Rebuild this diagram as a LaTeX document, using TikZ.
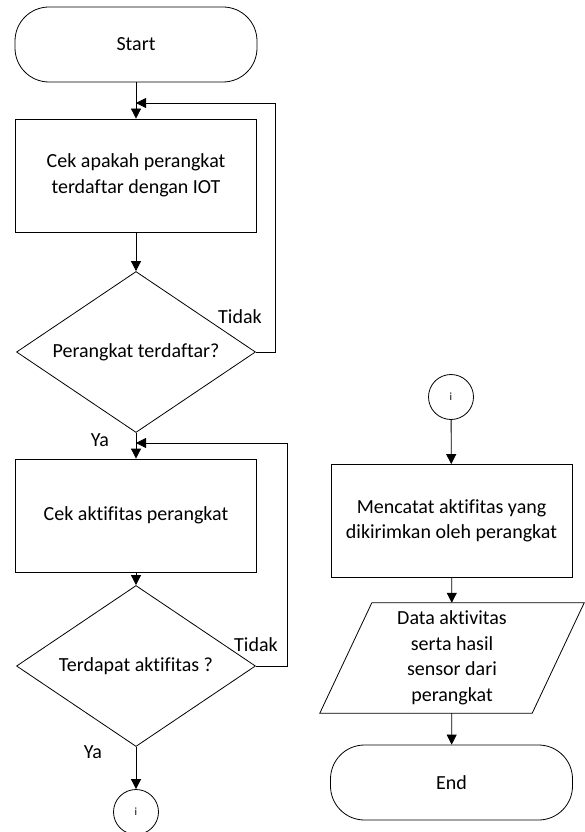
\documentclass[tikz,border=0pt]{standalone}
\usepackage{fontspec}
\setmainfont{Carlito}[Ligatures=NoCommon]
\usetikzlibrary{shapes.geometric,arrows.meta}
\begin{document}
\begin{tikzpicture}[x=1pt,y=-1pt,
  every node/.style={font=\fontsize{20}{25.5}\selectfont},
  base/.style={draw,line width=0.8pt,inner sep=0pt,align=center},
  term/.style={base,rounded corners=34pt,minimum width=242pt,minimum height=75pt},
  proc/.style={base,minimum width=241pt,minimum height=113pt},
  dec/.style={base,diamond,minimum width=239pt,minimum height=161pt},
  conn/.style={base,circle,minimum size=45pt,font=\fontsize{11}{13}\selectfont},
  lbl/.style={inner sep=0pt},
  ln/.style={line width=0.8pt},
  arr/.style={line width=0.8pt,-{Triangle[length=10pt,width=10pt]}}]
\useasboundingbox (0,0) rectangle (585,832);
% left column
\node[term] (start) at (136,44.5) {Start};
\node[proc] (r1) at (136,175.5) {Cek apakah perangkat\\terdaftar dengan IOT};
\node[dec,label={center:Perangkat terdaftar?}] (d1) at (136,352) {};
\node[proc] (r2) at (136,515.5) {Cek aktifitas perangkat};
\node[dec,label={center:Terdapat aktifitas ?}] (d2) at (136,666) {};
\node[conn] (c1) at (136,812) {i};
\node[lbl] (t1) at (240,317) {Tidak};
\node[lbl] (y1) at (100,440) {Ya};
\node[lbl] (t2) at (256,645) {Tidak};
\node[lbl] (y2) at (93,752) {Ya};
\coordinate (m1) at (136,103);
\coordinate (k1) at (275,103);
\coordinate (m2) at (136,443);
\coordinate (k2) at (287,443);
\draw[arr] (start) -- (r1);
\draw[arr] (r1) -- (d1);
\draw[arr] (d1) -- (r2);
\draw[arr] (r2) -- (d2);
\draw[arr] (d2) -- (c1);
\draw[arr] (d1.east) -| (k1) -- (m1);
\draw[arr] (d2.east) -| (k2) -- (m2);
% right column
\node[conn] (c2) at (451,397) {i};
\node[proc] (r3) at (451.5,521) {Mencatat aktifitas yang\\dikirimkan oleh perangkat};
\node[lbl,minimum width=212pt,minimum height=110pt,align=center] (data) at (452,658) {Data aktivitas\\serta hasil\\sensor dari\\perangkat};
\draw[ln] ([xshift=26pt]data.north west) -- ([xshift=26pt]data.north east) -- ([xshift=-26pt]data.south east) -- ([xshift=-26pt]data.south west) -- cycle;
\node[term] (end) at (451.5,782.5) {End};
\draw[arr] (c2) -- (r3);
\draw[arr] (r3) -- (data);
\draw[arr] (data) -- (end);
\end{tikzpicture}
\end{document}
